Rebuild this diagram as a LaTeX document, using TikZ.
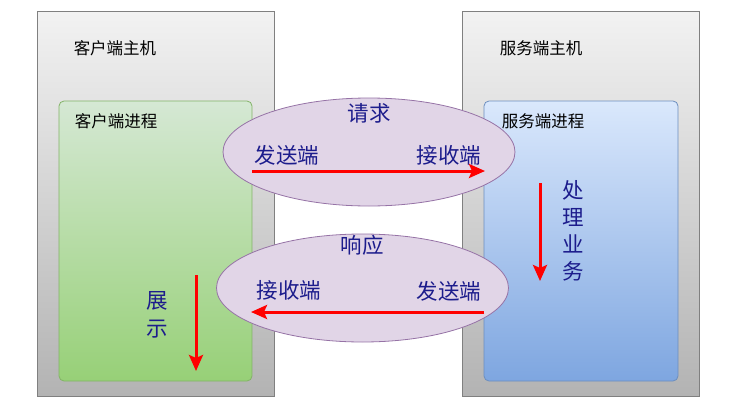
\documentclass[tikz,border=0pt]{standalone}
\usepackage{fontspec}
\setmainfont{Noto Sans CJK SC}
\usetikzlibrary{shapes.geometric,arrows.meta}
\definecolor{hostTop}{HTML}{F2F2F2}
\definecolor{hostBot}{HTML}{B3B3B3}
\definecolor{hostLine}{HTML}{808080}
\definecolor{grTop}{HTML}{D5E8D4}
\definecolor{grBot}{HTML}{97D077}
\definecolor{grLine}{HTML}{82B366}
\definecolor{blTop}{HTML}{DAE8FC}
\definecolor{blBot}{HTML}{7EA6E0}
\definecolor{blLine}{HTML}{6C8EBF}
\definecolor{elFill}{HTML}{E1D5E7}
\definecolor{elLine}{HTML}{9673A6}
\definecolor{navy}{RGB}{28,28,140}
\tikzset{
  host/.style={draw=hostLine, line width=0.9pt, top color=hostTop, bottom color=hostBot, minimum width=237pt, minimum height=385pt, inner sep=0pt},
  procG/.style={draw=grLine, line width=0.8pt, rounded corners=5pt, top color=grTop, bottom color=grBot, minimum width=193pt, minimum height=280pt, inner sep=0pt},
  procB/.style={draw=blLine, line width=0.8pt, rounded corners=5pt, top color=blTop, bottom color=blBot, minimum width=194pt, minimum height=280pt, inner sep=0pt},
  bubble/.style={ellipse, draw=elLine, line width=0.8pt, fill=elFill, minimum width=292pt, minimum height=108pt, inner sep=0pt},
  small/.style={font=\fontsize{16.5pt}{19pt}\selectfont, text=black, inner sep=0pt},
  big/.style={font=\fontsize{21.5pt}{24pt}\selectfont, text=navy, inner sep=0pt},
  vert/.style={font=\fontsize{21.5pt}{24pt}\selectfont, text=navy, inner sep=0pt, align=center},
  flow/.style={red, line width=3pt, -{Stealth[length=16pt,width=14pt,inset=3pt]}}
}
\begin{document}
\begin{tikzpicture}[x=1pt,y=-1pt]
\useasboundingbox (0,0) rectangle (732,418);
% hosts
\node[host] (hostL) at (155.5,203.5) {};
\node[host] (hostR) at (581,203.5) {};
\node[small] (hostLlab) at (115,48) {客户端主机};
\node[small] (hostRlab) at (541,48) {服务端主机};
% processes
\node[procG] (procL) at (155.5,241) {};
\node[procB] (procR) at (581,241) {};
\node[small] (procLlab) at (116,121) {客户端进程};
\node[small] (procRlab) at (543,121) {服务端进程};
% bubbles
\node[bubble] (req) at (369,152) {};
\node[bubble] (resp) at (362.5,288) {};
\node[big] (reqlab) at (369,113) {请求};
\node[big] (reqsend) at (287,155) {发送端};
\node[big] (reqrecv) at (449,155) {接收端};
\node[big] (resplab) at (362,245) {响应};
\node[big] (resprecv) at (289,290) {接收端};
\node[big] (respsend) at (449,291) {发送端};
% vertical labels
\node[vert] (show) at (157,315) {展\\[4pt]示};
\node[vert] (work) at (573,231) {处\\[3pt]理\\[3pt]业\\[3pt]务};
% arrows
\coordinate (a1s) at (252,171);
\coordinate (a1e) at (485,171);
\coordinate (a2s) at (484,312);
\coordinate (a2e) at (251,312);
\coordinate (a3s) at (196,275);
\coordinate (a3e) at (196,371);
\coordinate (a4s) at (540,183);
\coordinate (a4e) at (540,281);
\draw[flow] (a1s) -- (a1e);
\draw[flow] (a2s) -- (a2e);
\draw[flow] (a3s) -- (a3e);
\draw[flow] (a4s) -- (a4e);
\end{tikzpicture}
\end{document}
